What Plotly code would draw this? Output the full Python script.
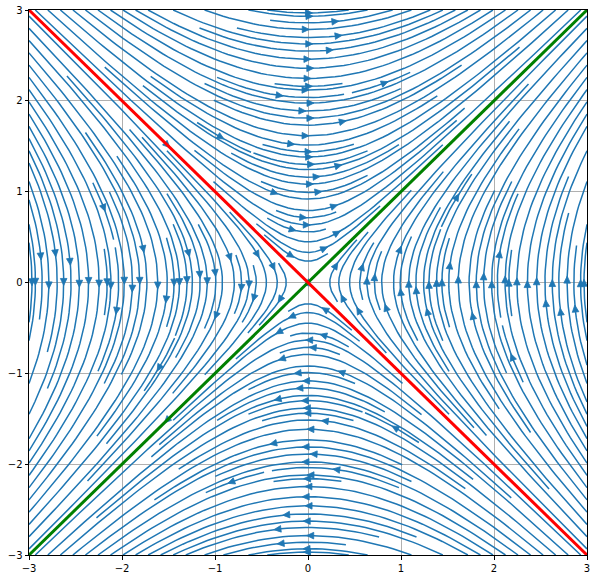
import numpy as np
import plotly.graph_objects as go

# ---- data -------------------------------------------------------------
X_LIM = [-3, 3]
Y_LIM = [-3, 3]
TICKS = [-3, -2, -1, 0, 1, 2, 3]
GRID_N = 100
DENSITY = 3
# linear system  dx/dt = A[0][0]*x + A[0][1]*y ,  dy/dt = A[1][0]*x + A[1][1]*y
A = [[0.0, 1.0], [1.0, 0.0]]
# eigen-directions
STABLE_X = [-3, 3]
STABLE_Y = [3, -3]
UNSTABLE_X = [-3, 3]
UNSTABLE_Y = [-3, 3]

# ---- layout constants -------------------------------------------------
W, H = 597, 578
ML, MR, MT, MB = 29, 10, 10, 23
PW, PH = W - ML - MR, H - MT - MB
BLUE = "#1f77b4"

# ---- streamplot (port of matplotlib's algorithm) -----------------------
xs = np.linspace(X_LIM[0], X_LIM[1], GRID_N)
ys = np.linspace(Y_LIM[0], Y_LIM[1], GRID_N)
XX, YY = np.meshgrid(xs, ys)
U = A[0][0] * XX + A[0][1] * YY
V = A[1][0] * XX + A[1][1] * YY


class OutOfBounds(Exception):
    pass


class InvalidIndex(Exception):
    pass


class Terminate(Exception):
    pass


nx = ny = GRID_N
dxg = xs[1] - xs[0]
dyg = ys[1] - ys[0]
MNX = MNY = int(30 * DENSITY)
mask = np.zeros((MNY, MNX))
x_grid2mask = (MNX - 1) / (nx - 1)
y_grid2mask = (MNY - 1) / (ny - 1)
state = {"cur": None, "traj": []}


def within(xi, yi):
    return 0 <= xi <= nx - 1 and 0 <= yi <= ny - 1


def grid2mask(xi, yi):
    return int(xi * x_grid2mask + 0.5), int(yi * y_grid2mask + 0.5)


def mask_update(xm, ym):
    if state["cur"] != (xm, ym):
        if mask[ym, xm] == 0:
            state["traj"].append((ym, xm))
            mask[ym, xm] = 1
            state["cur"] = (xm, ym)
        else:
            raise InvalidIndex


def start_traj(xg, yg):
    state["traj"] = []
    xm, ym = grid2mask(xg, yg)
    mask_update(xm, ym)


def reset_start(xg, yg):
    state["cur"] = grid2mask(xg, yg)


def update_traj(xg, yg):
    if not within(xg, yg):
        raise InvalidIndex
    xm, ym = grid2mask(xg, yg)
    mask_update(xm, ym)


def undo_traj():
    for t in state["traj"]:
        mask[t] = 0


ug = U / dxg
vg = V / dyg
speed = np.sqrt((ug / (nx - 1)) ** 2 + (vg / (ny - 1)) ** 2)


def interp(a, xi, yi):
    Ny, Nx = a.shape
    x = int(xi)
    y = int(yi)
    xn = x if x == Nx - 1 else x + 1
    yn = y if y == Ny - 1 else y + 1
    xt = xi - x
    yt = yi - y
    a0 = a[y, x] * (1 - xt) + a[y, xn] * xt
    a1 = a[yn, x] * (1 - xt) + a[yn, xn] * xt
    return a0 * (1 - yt) + a1 * yt


def forward(xi, yi):
    if not within(xi, yi):
        raise OutOfBounds
    s = interp(speed, xi, yi)
    if s == 0:
        raise Terminate
    return interp(ug, xi, yi) / s, interp(vg, xi, yi) / s


def backward(xi, yi):
    a, b = forward(xi, yi)
    return -a, -b


def euler_step(traj, f):
    xi, yi = traj[-1]
    cx, cy = f(xi, yi)
    if cx == 0:
        dsx = np.inf
    elif cx < 0:
        dsx = xi / -cx
    else:
        dsx = (nx - 1 - xi) / cx
    if cy == 0:
        dsy = np.inf
    elif cy < 0:
        dsy = yi / -cy
    else:
        dsy = (ny - 1 - yi) / cy
    ds = min(dsx, dsy)
    traj.append((xi + cx * ds, yi + cy * ds))
    return ds, traj


def rk12(x0, y0, f, maxlength=4.0):
    maxerror = 0.003
    maxds = min(1.0 / MNX, 1.0 / MNY, 0.1)
    ds = maxds
    stotal = 0.0
    xi, yi = x0, y0
    traj = []
    while True:
        try:
            if within(xi, yi):
                traj.append((xi, yi))
            else:
                raise OutOfBounds
            k1x, k1y = f(xi, yi)
            k2x, k2y = f(xi + ds * k1x, yi + ds * k1y)
        except OutOfBounds:
            if traj:
                d, traj = euler_step(traj, f)
                stotal += d
            break
        except Terminate:
            break
        dx1, dy1 = ds * k1x, ds * k1y
        dx2, dy2 = ds * 0.5 * (k1x + k2x), ds * 0.5 * (k1y + k2y)
        err = np.hypot((dx2 - dx1) / (nx - 1), (dy2 - dy1) / (ny - 1))
        if err < maxerror:
            xi += dx2
            yi += dy2
            try:
                update_traj(xi, yi)
            except InvalidIndex:
                break
            if stotal + ds > maxlength:
                break
            stotal += ds
        if err == 0:
            ds = maxds
        else:
            ds = min(maxds, 0.85 * ds * (maxerror / err) ** 0.5)
    return stotal, traj


def integrate(x0, y0, minlength=0.1):
    try:
        start_traj(x0, y0)
    except InvalidIndex:
        return None
    stotal = 0.0
    out = []
    s, t = rk12(x0, y0, backward)
    stotal += s
    out += t[::-1]
    reset_start(x0, y0)
    s, t = rk12(x0, y0, forward)
    stotal += s
    out += t[1:]
    if stotal > minlength:
        return np.array(out)
    undo_traj()
    return None


def starting_points(shape):
    nyy, nxx = shape
    xfirst, yfirst, xlast, ylast = 0, 1, nxx - 1, nyy - 1
    x, y = 0, 0
    d = "right"
    for _ in range(nxx * nyy):
        yield x, y
        if d == "right":
            x += 1
            if x >= xlast:
                xlast -= 1
                d = "up"
        elif d == "up":
            y += 1
            if y >= ylast:
                ylast -= 1
                d = "left"
        elif d == "left":
            x -= 1
            if x <= xfirst:
                xfirst += 1
                d = "down"
        elif d == "down":
            y -= 1
            if y <= yfirst:
                yfirst += 1
                d = "right"


trajs = []
for xm, ym in starting_points(mask.shape):
    if mask[ym, xm] == 0:
        xg, yg = xm / x_grid2mask, ym / y_grid2mask
        t = integrate(xg, yg)
        if t is not None:
            trajs.append(t)

# ---- build traces ------------------------------------------------------
sx_scale = PW / (X_LIM[1] - X_LIM[0])  # px per unit
sy_scale = PH / (Y_LIM[1] - Y_LIM[0])
LX, LY = [], []
AX, AY = [], []
HEAD_L, HEAD_W = 7.0, 3.3
for t in trajs:
    tx = t[:, 0] * dxg + xs[0]
    ty = t[:, 1] * dyg + ys[0]
    LX += list(tx) + [None]
    LY += list(ty) + [None]
    s = np.cumsum(np.hypot(np.diff(tx), np.diff(ty)))
    n = int(np.searchsorted(s, s[-1] / 2.0))
    hx, hy = np.mean(tx[n:n + 2]), np.mean(ty[n:n + 2])
    ddx = (tx[min(n + 1, len(tx) - 1)] - tx[n]) * sx_scale
    ddy = (ty[min(n + 1, len(ty) - 1)] - ty[n]) * sy_scale
    nrm = np.hypot(ddx, ddy)
    if nrm == 0:
        continue
    ex, ey = ddx / nrm, ddy / nrm
    px, py = -ey, ex
    tipx, tipy = hx + ex * HEAD_L * 0.55 / sx_scale, hy + ey * HEAD_L * 0.55 / sy_scale
    bx, by = hx - ex * HEAD_L * 0.45 / sx_scale, hy - ey * HEAD_L * 0.45 / sy_scale
    AX += [tipx, bx + px * HEAD_W / sx_scale, bx - px * HEAD_W / sx_scale, tipx, None]
    AY += [tipy, by + py * HEAD_W / sy_scale, by - py * HEAD_W / sy_scale, tipy, None]

fig = go.Figure()
fig.add_trace(go.Scatter(x=LX, y=LY, mode="lines",
                         line=dict(color=BLUE, width=1.5), hoverinfo="skip",
                         showlegend=False, connectgaps=False))
fig.add_trace(go.Scatter(x=AX, y=AY, mode="lines", fill="toself",
                         fillcolor=BLUE, line=dict(color=BLUE, width=0.8),
                         hoverinfo="skip", showlegend=False))
fig.add_trace(go.Scatter(x=UNSTABLE_X, y=UNSTABLE_Y, mode="lines",
                         line=dict(color="green", width=3), showlegend=False))
fig.add_trace(go.Scatter(x=STABLE_X, y=STABLE_Y, mode="lines",
                         line=dict(color="red", width=3), showlegend=False))

axis_common = dict(
    tickvals=TICKS, ticktext=[("\u2212" + str(-v)) if v < 0 else str(v) for v in TICKS],
    showgrid=True, gridcolor="#b0b0b0", gridwidth=0.8, zeroline=False,
    showline=True, linecolor="black", linewidth=1, mirror=True,
    ticks="outside", ticklen=3.5, tickwidth=0.8, tickcolor="black",
    tickfont=dict(family="DejaVu Sans", size=10, color="black"),
    automargin=False,
)
fig.update_xaxes(range=X_LIM, **axis_common)
fig.update_yaxes(range=Y_LIM, **axis_common)
fig.update_layout(
    width=W, height=H, margin=dict(l=ML, r=MR, t=MT, b=MB, autoexpand=False),
    plot_bgcolor="white", paper_bgcolor="white",
)
fig.write_html("out.html")
